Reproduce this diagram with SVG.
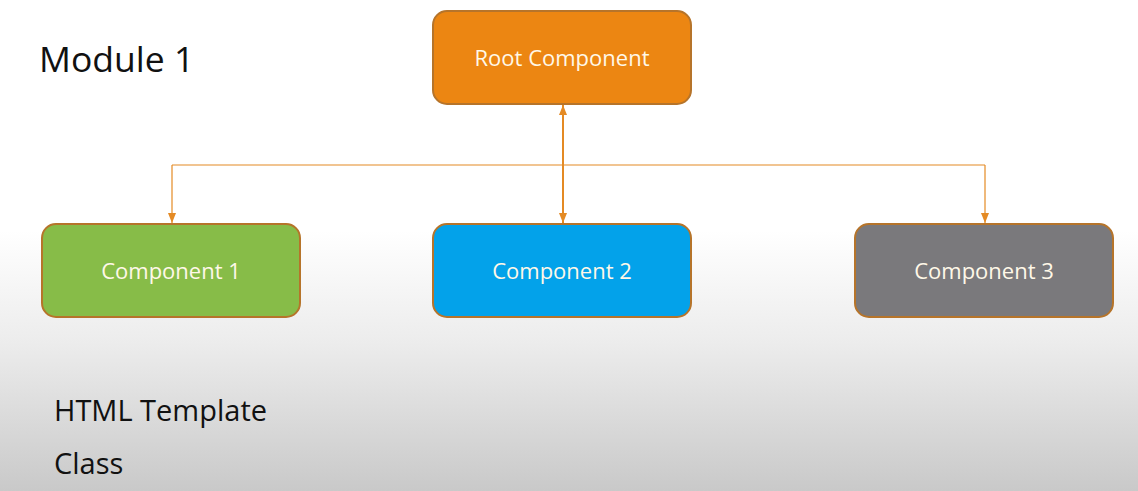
<svg xmlns="http://www.w3.org/2000/svg" width="1138" height="491" viewBox="0 0 1138 491">
<defs>
<linearGradient id="bg" x1="0" y1="0" x2="0" y2="491" gradientUnits="userSpaceOnUse">
<stop offset="0" stop-color="#ffffff"/>
<stop offset="0.47" stop-color="#ffffff"/>
<stop offset="0.7" stop-color="#ececec"/>
<stop offset="1" stop-color="#c9c9c9"/>
</linearGradient>
<marker id="arr" viewBox="0 0 10 10" refX="10" refY="5" markerWidth="10" markerHeight="10" markerUnits="userSpaceOnUse" orient="auto-start-reverse">
<path d="M0,1 L10,5 L0,9 Z" fill="#E48A24"/>
</marker>
<style>
.node{stroke:#B6742A;stroke-width:2}
.nt{font-family:"Open Sans","Liberation Sans",sans-serif;font-size:22px;fill:#FFF8E8;text-anchor:middle}
.lbl{font-family:"Open Sans","Liberation Sans",sans-serif;fill:#111111}
.con{stroke:#E48A24;fill:none}
</style>
</defs>
<rect width="1138" height="491" fill="url(#bg)"/>
<text class="lbl" x="39" y="72" font-size="35.5">Module 1</text>
<g id="connectors">
<path class="con" stroke-width="1.2" d="M172,165 H985"/>
<path class="con" stroke-width="1.2" d="M172,165 V223" marker-end="url(#arr)"/>
<path class="con" stroke-width="1.2" d="M985,165 V223" marker-end="url(#arr)"/>
<path class="con" stroke-width="2" d="M563,105 V223" marker-start="url(#arr)" marker-end="url(#arr)"/>
</g>
<g id="root">
<rect class="node" x="433" y="11" width="258" height="93" rx="14" fill="#EC8612"/>
<text class="nt" x="562" y="66">Root Component</text>
</g>
<g id="c1">
<rect class="node" x="42" y="224" width="258" height="93" rx="14" fill="#87BC48"/>
<text class="nt" x="171" y="279">Component 1</text>
</g>
<g id="c2">
<rect class="node" x="433" y="224" width="258" height="93" rx="14" fill="#03A2EA"/>
<text class="nt" x="562" y="279">Component 2</text>
</g>
<g id="c3">
<rect class="node" x="855" y="224" width="258" height="93" rx="14" fill="#7A797C"/>
<text class="nt" x="984" y="279">Component 3</text>
</g>
<text class="lbl" x="54" y="421" font-size="29">HTML Template</text>
<text class="lbl" x="54" y="474" font-size="29">Class</text>
</svg>
